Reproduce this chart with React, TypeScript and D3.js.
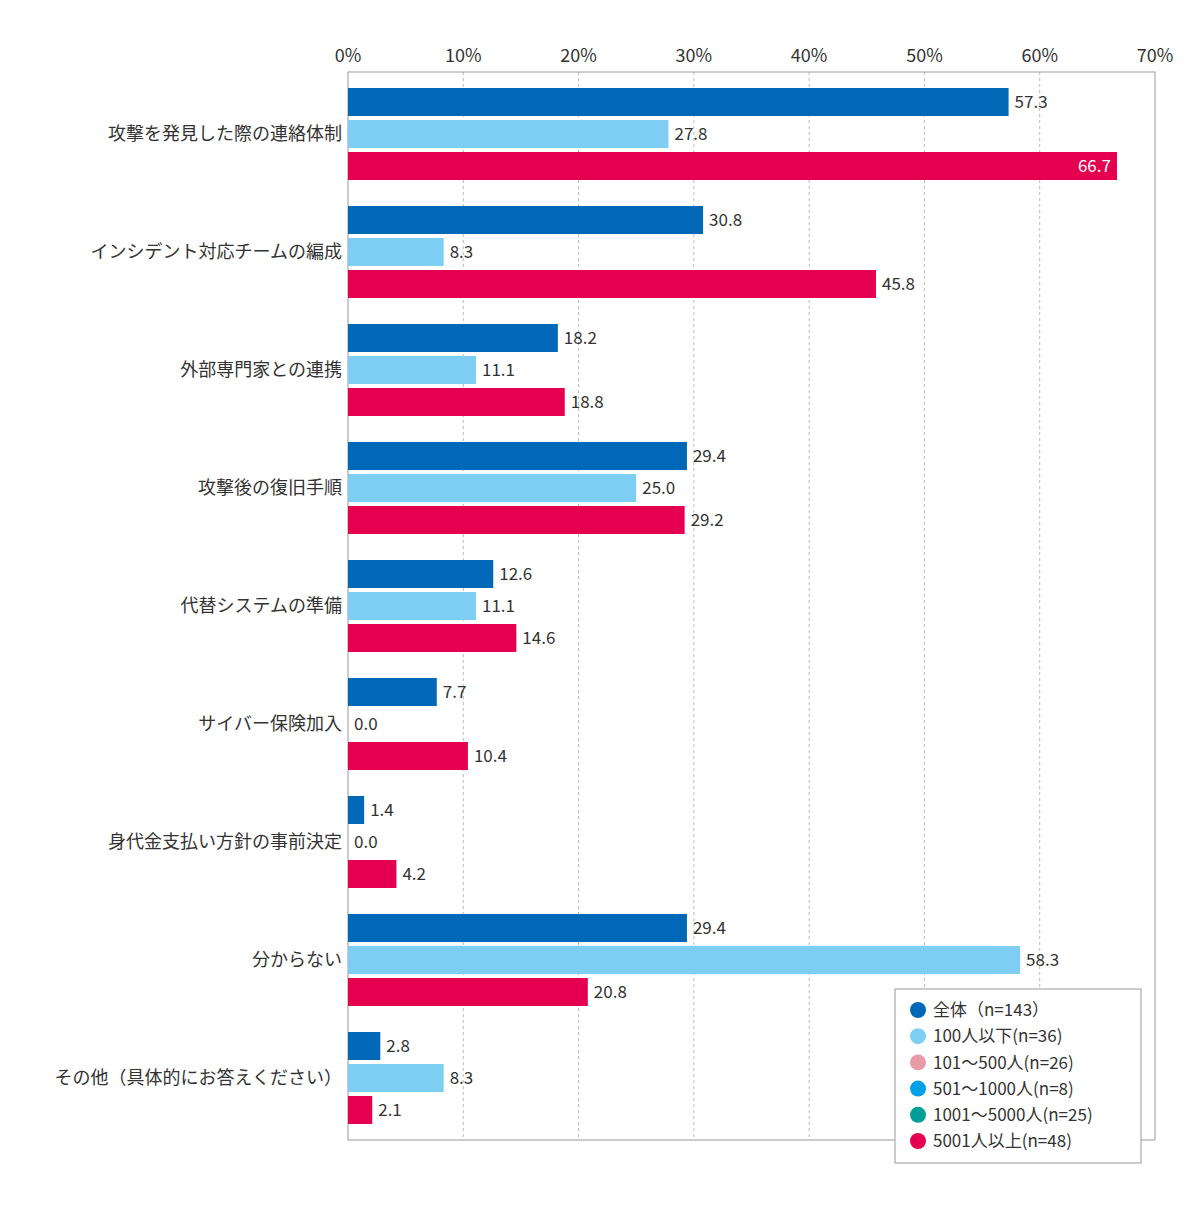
import React from "react";
import * as d3 from "d3";

const categories = ["攻撃を発見した際の連絡体制","インシデント対応チームの編成","外部専門家との連携","攻撃後の復旧手順","代替システムの準備","サイバー保険加入","身代金支払い方針の事前決定","分からない","その他（具体的にお答えください）"];
const allValues = [57.3,30.8,18.2,29.4,12.6,7.7,1.4,29.4,2.8];
const smallValues = [27.8,8.3,11.1,25.0,11.1,0.0,0.0,58.3,8.3];
const largeValues = [66.7,45.8,18.8,29.2,14.6,10.4,4.2,20.8,2.1];
const ticks = [0,10,20,30,40,50,60,70];
const legendItems = [
  {label:"全体（n=143）", color:"#0068b7"},
  {label:"100人以下(n=36)", color:"#7ecef4"},
  {label:"101～500人(n=26)", color:"#ea9ca6"},
  {label:"501～1000人(n=8)", color:"#00a0e9"},
  {label:"1001～5000人(n=25)", color:"#009e96"},
  {label:"5001人以上(n=48)", color:"#e4004f"},
];
const series = [
  {values: allValues, color:"#0068b7"},
  {values: smallValues, color:"#7ecef4"},
  {values: largeValues, color:"#e4004f"},
];

export default function App() {
  const W = 1200, H = 1206;
  const left = 348, right = 1155, top = 72, bottom = 1140;
  const x = d3.scaleLinear().domain([0,70]).range([left,right]);
  const y = d3.scaleBand<string>().domain(categories).range([75,1137]);
  const barH = 28, gap = 4;
  const font = "'Noto Sans CJK JP', 'Noto Sans', sans-serif";
  return (
    <svg width={W} height={H} style={{display:"block", margin:-8}} fontFamily={font}>
      <rect width={W} height={H} fill="#fff"/>
      {ticks.map(t => (
        <g key={t}>
          {t>0 && t<70 && <line x1={x(t)} x2={x(t)} y1={top} y2={bottom} stroke="#bbb" strokeDasharray="3,3"/>}
          <text x={x(t)} y={62} textAnchor="middle" fontSize={18} fill="#333">{t}%</text>
        </g>
      ))}
      <rect x={left} y={top} width={right-left} height={bottom-top} fill="none" stroke="#999"/>
      {categories.map((c,i) => {
        const cy = (y(c) as number) + y.bandwidth()/2;
        return (
          <g key={c}>
            <text x={left-6} y={cy} dy="0.35em" textAnchor="end" fontSize={18} fill="#333">{c}</text>
            {series.map((s,j) => {
              const by = cy - barH*1.5 - gap + j*(barH+gap);
              const v = s.values[i];
              const inside = v > 62;
              return (
                <g key={j}>
                  <rect x={left} y={by} width={x(v)-left} height={barH} fill={s.color}/>
                  <text x={inside ? x(v)-6 : x(v)+6} y={by+barH/2} dy="0.36em" textAnchor={inside?"end":"start"} fontSize={17} fill={inside?"#fff":"#333"}>{v.toFixed(1)}</text>
                </g>
              );
            })}
          </g>
        );
      })}
      <rect x={895} y={989} width={246} height={174} fill="#fff" stroke="#999"/>
      {legendItems.map((l,i) => (
        <g key={l.label}>
          <circle cx={918} cy={1010+i*26.2} r={8} fill={l.color}/>
          <text x={933} y={1010+i*26.2} dy="0.36em" fontSize={17} fill="#333">{l.label}</text>
        </g>
      ))}
    </svg>
  );
}
